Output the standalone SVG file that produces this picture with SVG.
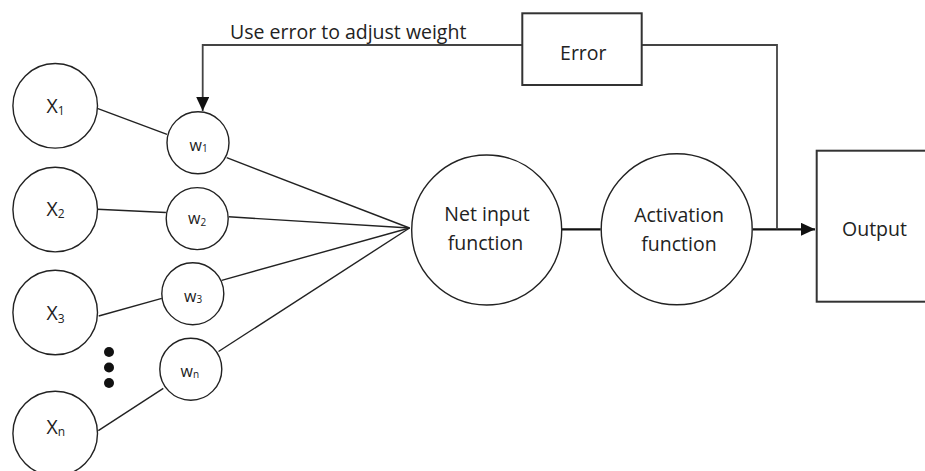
<svg xmlns="http://www.w3.org/2000/svg" width="925" height="471" viewBox="0 0 925 471">
  <style>
    .node { fill: #ffffff; stroke: #222222; stroke-width: 1.4; }
    .box { fill: #ffffff; stroke: #333333; stroke-width: 2; }
    .wire { fill: none; stroke: #222222; stroke-width: 1.4; }
    .main { fill: none; stroke: #111111; stroke-width: 2.2; }
    .fb { fill: none; stroke: #444444; stroke-width: 1.8; }
    .lbl { font-family: "Open Sans", "Liberation Sans", sans-serif; font-size: 19.5px; fill: #222222; }
    .xl { font-family: "Open Sans", "Liberation Sans", sans-serif; font-size: 19.5px; fill: #222222; }
    .wl { font-family: "Open Sans", "Liberation Sans", sans-serif; font-size: 16px; fill: #222222; }
    .sub { font-size: 12px; }
    .wsub { font-size: 10px; }
    .mid { text-anchor: middle; }
  </style>
  <defs>
    <marker id="arrow" viewBox="0 0 14 13" refX="14" refY="6.5" markerWidth="14" markerHeight="13" orient="auto" markerUnits="userSpaceOnUse">
      <path d="M0,0 L14,6.5 L0,13 z" fill="#111111"/>
    </marker>
  </defs>

  <!-- connectors -->
  <g id="connectors">
    <!-- inputs to weights -->
    <line class="wire" x1="97.3" y1="108.3" x2="167" y2="134.3"/>
    <line class="wire" x1="97.3" y1="209.3" x2="165.9" y2="212.5"/>
    <line class="wire" x1="98.7" y1="316" x2="161.8" y2="298.3"/>
    <line class="wire" x1="98.3" y1="430.7" x2="163.3" y2="388.3"/>
    <!-- weights to summation -->
    <line class="wire" x1="226.7" y1="157.7" x2="409.5" y2="228"/>
    <line class="wire" x1="228.7" y1="216.8" x2="409.5" y2="228"/>
    <line class="wire" x1="221.7" y1="280.3" x2="409.5" y2="228"/>
    <line class="wire" x1="218.5" y1="351.5" x2="409.5" y2="228"/>
    <!-- forward path -->
    <line class="main" x1="561.7" y1="229.3" x2="600.7" y2="229.3"/>
    <line class="main" x1="752.7" y1="229.3" x2="815" y2="229.3" marker-end="url(#arrow)"/>
    <!-- error feedback -->
    <polyline class="fb" points="777,229.3 777,45 641.7,45"/>
    <polyline class="fb" points="522.3,45 202.7,45 202.7,111" marker-end="url(#arrow)"/>
  </g>

  <text class="lbl" x="230" y="39">Use error to adjust weight</text>

  <!-- inputs -->
  <g id="x1">
    <circle class="node" cx="55.2" cy="105.8" r="42.3"/>
    <text class="xl" x="46.5" y="112.7">X<tspan class="sub" dy="2.5">1</tspan></text>
  </g>
  <g id="x2">
    <circle class="node" cx="55.2" cy="209.6" r="42.3"/>
    <text class="xl" x="46.5" y="215.5">X<tspan class="sub" dy="2.5">2</tspan></text>
  </g>
  <g id="x3">
    <circle class="node" cx="55.2" cy="312.5" r="42.3"/>
    <text class="xl" x="46.5" y="320">X<tspan class="sub" dy="2.5">3</tspan></text>
  </g>
  <g id="ellipsis">
    <circle cx="109" cy="352" r="5" fill="#111111"/>
    <circle cx="109" cy="367.5" r="5" fill="#111111"/>
    <circle cx="109" cy="383" r="5" fill="#111111"/>
  </g>
  <g id="xn">
    <circle class="node" cx="55.2" cy="433.5" r="42.3"/>
    <text class="xl" x="46.5" y="433.5">X<tspan class="sub" dy="2.5">n</tspan></text>
  </g>

  <!-- weights -->
  <g id="w1">
    <circle class="node" cx="198" cy="142.8" r="31"/>
    <text class="wl" x="189.5" y="150.5">w<tspan class="wsub" dy="1.5">1</tspan></text>
  </g>
  <g id="w2">
    <circle class="node" cx="197.2" cy="218.6" r="31"/>
    <text class="wl" x="188" y="224">w<tspan class="wsub" dy="1.5">2</tspan></text>
  </g>
  <g id="w3">
    <circle class="node" cx="192.8" cy="293.7" r="31"/>
    <text class="wl" x="184" y="301.5">w<tspan class="wsub" dy="1.5">3</tspan></text>
  </g>
  <g id="wn">
    <circle class="node" cx="190.8" cy="369.2" r="31"/>
    <text class="wl" x="180.5" y="376.5">w<tspan class="wsub" dy="1.5">n</tspan></text>
  </g>

  <!-- summation -->
  <g id="net-input">
    <circle class="node" cx="486.7" cy="230" r="75"/>
    <text class="lbl mid" x="487" y="221">Net input</text>
    <text class="lbl mid" x="485.5" y="249.5">function</text>
  </g>

  <!-- activation -->
  <g id="activation">
    <circle class="node" cx="676.7" cy="229.3" r="75.5"/>
    <text class="lbl mid" x="679" y="222">Activation</text>
    <text class="lbl mid" x="679" y="251">function</text>
  </g>

  <g id="error">
    <rect class="box" x="522.3" y="13.3" width="119.4" height="71.7"/>
    <text class="lbl mid" x="583.3" y="59.5">Error</text>
  </g>

  <g id="output">
    <rect class="box" x="816.7" y="150.7" width="120" height="151"/>
    <text class="lbl mid" x="874.5" y="235.5">Output</text>
  </g>
</svg>
